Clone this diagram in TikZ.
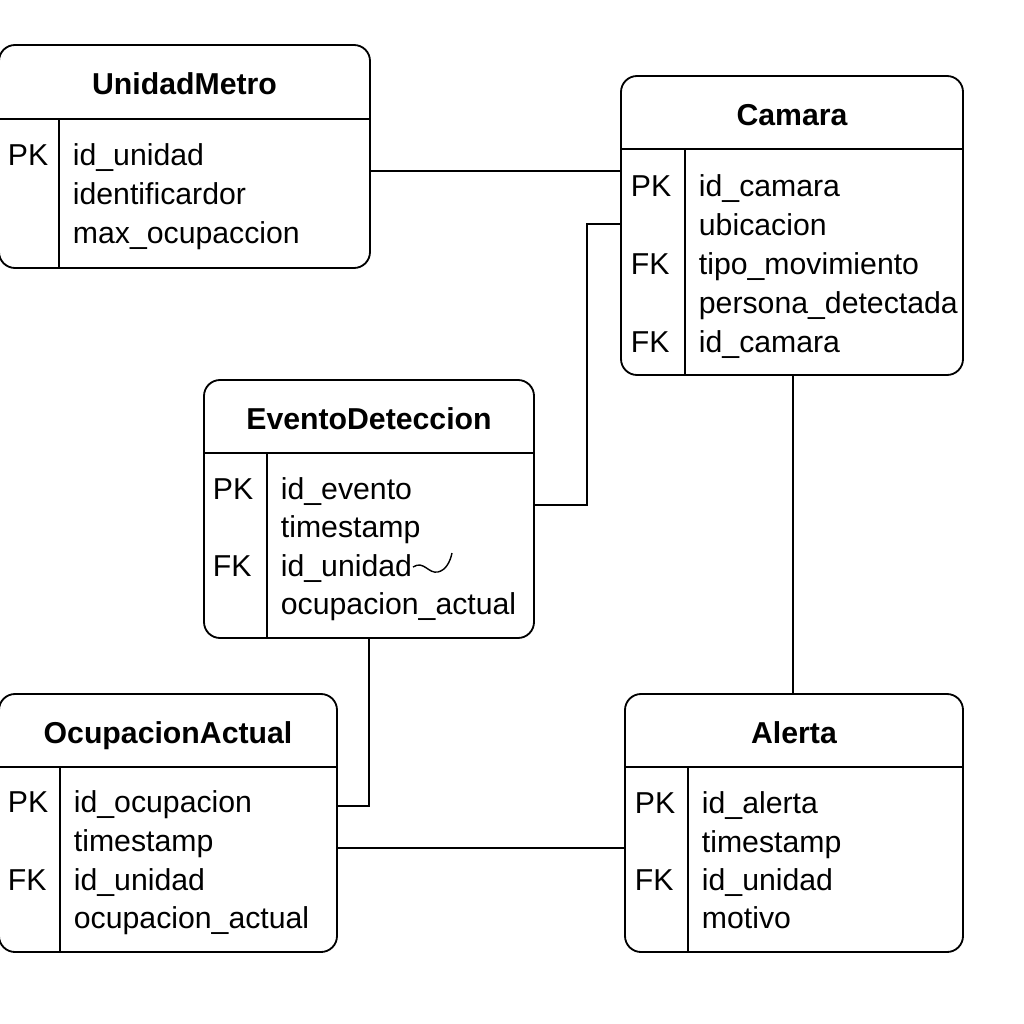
\documentclass[tikz,border=0pt]{standalone}
\usepackage{fontspec}
\setmainfont{Liberation Sans}
\usetikzlibrary{calc}
\def\px{0.025cm} % one pixel of the reference
\newcommand\DrawEntity[8]{% name, left, top, right, bottom, header line, divider, title
  \node[entity, minimum width={(#4-#2)*\px}, minimum height={(#5-#3)*\px}]
    (#1) at ({(#2+#4)/2},{(#3+#5)/2}) {};
  \draw (#2,#6) -- (#4,#6); % header line
  \draw (#7,#6) -- (#7,#5); % key column
  \node[title] (#1-title) at ({(#2+#4)/2},{(#3+#6)/2+2}) {#8};
}
\tikzset{%
  entity/.style={draw, rounded corners=0.4cm, inner sep=0pt, outer sep=0pt},
  title/.style={font=\bfseries\fontsize{21.5}{26}\selectfont, inner sep=0pt,
    text height=15.4pt, text depth=0pt},
  field/.style={anchor=west, font=\fontsize{21.5}{26}\selectfont, inner sep=0pt,
    text height=15.4pt, text depth=0pt}
}

\begin{document}
\begin{tikzpicture}[x=\px,y=-\px,line width=1.3pt]

\useasboundingbox (0,0) rectangle (1024,1024);

%% tables

\DrawEntity{unidad}{-1}{45}{370}{268}{119}{59}{UnidadMetro}
\node[field] (unidad-pk) at (7,155) {PK};
\node[field] (unidad-f1) at (72,155) {id\_unidad};
\node[field] (unidad-f2) at (72,194) {identificardor};
\node[field] (unidad-f3) at (72,233) {max\_ocupaccion};

\DrawEntity{camara}{621}{76}{963}{375}{149}{685}{Camara}
\node[field] (camara-pk) at (630,186) {PK};
\node[field] (camara-fk1) at (630,264) {FK};
\node[field] (camara-fk2) at (630,342) {FK};
\node[field] (camara-f1) at (698,186) {id\_camara};
\node[field] (camara-f2) at (698,225) {ubicacion};
\node[field] (camara-f3) at (698,264) {tipo\_movimiento};
\node[field] (camara-f4) at (698,303) {persona\_detectada};
\node[field] (camara-f5) at (698,342) {id\_camara};

\DrawEntity{evento}{204}{380}{534}{638}{453}{267}{EventoDeteccion}
\node[field] (evento-pk) at (212,489) {PK};
\node[field] (evento-fk) at (212,566) {FK};
\node[field] (evento-f1) at (280,489) {id\_evento};
\node[field] (evento-f2) at (280,527) {timestamp};
\node[field] (evento-f3) at (280,566) {id\_unidad};
\node[field] (evento-f4) at (280,604) {ocupacion\_actual};
\draw[line width=1pt] (413,567) .. controls (424,560) and (428,574) .. (438,572)
    .. controls (446,570) and (450,562) .. (452,553);

\DrawEntity{ocupacion}{-1}{694}{337}{952}{767}{60}{OcupacionActual}
\node[field] (ocupacion-pk) at (7,802) {PK};
\node[field] (ocupacion-fk) at (7,880) {FK};
\node[field] (ocupacion-f1) at (73,802) {id\_ocupacion};
\node[field] (ocupacion-f2) at (73,841) {timestamp};
\node[field] (ocupacion-f3) at (73,880) {id\_unidad};
\node[field] (ocupacion-f4) at (73,918) {ocupacion\_actual};

\DrawEntity{alerta}{625}{694}{963}{952}{767}{688}{Alerta}
\node[field] (alerta-pk) at (634,803) {PK};
\node[field] (alerta-fk) at (634,880) {FK};
\node[field] (alerta-f1) at (701,803) {id\_alerta};
\node[field] (alerta-f2) at (701,842) {timestamp};
\node[field] (alerta-f3) at (701,880) {id\_unidad};
\node[field] (alerta-f4) at (701,918) {motivo};

%% relations

\draw (unidad.east |- 0,171) -- (camara.west |- 0,171);
\draw (camara.west |- 0,224) -- (587,224) |- (evento.east |- 0,505);
\draw (camara.south -| 793,0) -- (alerta.north -| 793,0);
\draw (evento.south) |- (ocupacion.east |- 0,806);
\draw (ocupacion.east |- 0,848) -- (alerta.west |- 0,848);

\end{tikzpicture}
\end{document}
